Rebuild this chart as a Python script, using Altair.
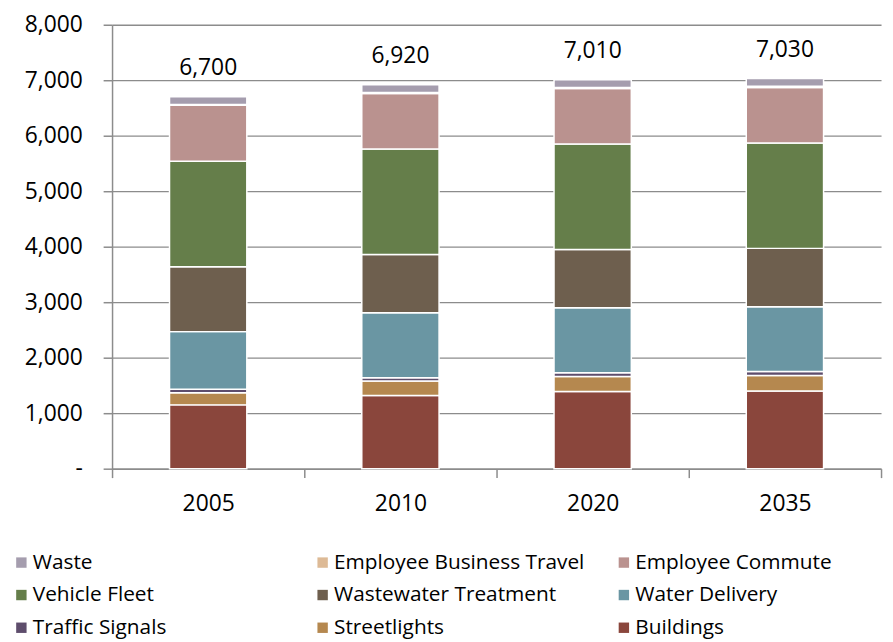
import altair as alt
import pandas as pd

years = ["2005", "2010", "2020", "2035"]

# stack order: bottom -> top
categories = ["Buildings", "Streetlights", "Traffic Signals", "Water Delivery",
              "Wastewater Treatment", "Vehicle Fleet", "Employee Commute",
              "Employee Business Travel", "Waste"]

buildings = [1150, 1320, 1390, 1400]
streetlights = [220, 260, 270, 280]
traffic_signals = [60, 60, 70, 70]
water_delivery = [1040, 1170, 1170, 1170]
wastewater_treatment = [1170, 1050, 1050, 1050]
vehicle_fleet = [1900, 1900, 1900, 1900]
employee_commute = [1010, 1000, 1000, 1000]
employee_business_travel = [15, 20, 20, 20]
waste = [135, 140, 140, 140]

totals = [6700, 6920, 7010, 7030]

legend_order = ["Waste", "Employee Business Travel", "Employee Commute",
                "Vehicle Fleet", "Wastewater Treatment", "Water Delivery",
                "Traffic Signals", "Streetlights", "Buildings"]
legend_colors = ["#A59DAE", "#DDBA96", "#BA928F",
                 "#657E4A", "#6E5F4E", "#6A96A3",
                 "#5E4D6C", "#B5884F", "#8A463C"]

series = [buildings, streetlights, traffic_signals, water_delivery,
          wastewater_treatment, vehicle_fleet, employee_commute,
          employee_business_travel, waste]

rows = []
for i, (cat, vals) in enumerate(zip(categories, series)):
    for y, v in zip(years, vals):
        rows.append({"Year": y, "Category": cat, "Value": v, "Stack": i})
df = pd.DataFrame(rows)
tot_df = pd.DataFrame({"Year": years, "Total": totals})

FONT = "Open Sans"

x_enc = alt.X("Year:N", sort=years, title=None,
              scale=alt.Scale(paddingInner=0, paddingOuter=0),
              axis=alt.Axis(labelAngle=0, tickBand="extent", grid=False,
                            labelFontSize=23, labelPadding=15, tickSize=9))

bars = alt.Chart(df).mark_bar(width=78, stroke="white", strokeWidth=1.5).encode(
    x=x_enc,
    y=alt.Y("sum(Value):Q", title=None, stack="zero",
            scale=alt.Scale(domain=[0, 8000], nice=False),
            axis=alt.Axis(values=list(range(0, 8001, 1000)),
                          labelExpr="datum.value == 0 ? '-\u00a0\u00a0' : format(datum.value, ',')",
                          labelFontSize=23, labelPadding=21, tickSize=9)),
    color=alt.Color("Category:N",
                    scale=alt.Scale(domain=legend_order, range=legend_colors),
                    legend=alt.Legend(title=None, orient="none", legendX=-102, legendY=532,
                                      columns=3, gridAlign="all", direction="horizontal",
                                      symbolType="square", symbolSize=110,
                                      symbolStrokeWidth=0, labelFontSize=21,
                                      labelFont=FONT, labelColor="black",
                                      labelOffset=1, labelLimit=400,
                                      columnPadding=29, rowPadding=11)),
    order=alt.Order("Stack:Q", sort="ascending"),
)

labels = alt.Chart(tot_df).mark_text(fontSize=23, font=FONT, dy=-22,
                                     baseline="alphabetic", color="black").encode(
    x=alt.X("Year:N", sort=years),
    y=alt.Y("Total:Q"),
    text=alt.Text("Total:Q", format=","),
)

chart = alt.layer(bars, labels).properties(
    width=776, height=448,
    autosize=alt.AutoSizeParams(type="none"),
    padding={"left": 105, "top": 14, "right": 4, "bottom": 172},
).configure_axis(
    labelFont=FONT, labelColor="black", domainColor="#8C8C8C", tickColor="#8C8C8C",
    gridColor="#8C8C8C", domainWidth=1.5, tickWidth=1.5, gridWidth=1.3,
).configure_view(stroke=None)

chart.save("out.html", embed_options={"renderer": "svg", "actions": False})
